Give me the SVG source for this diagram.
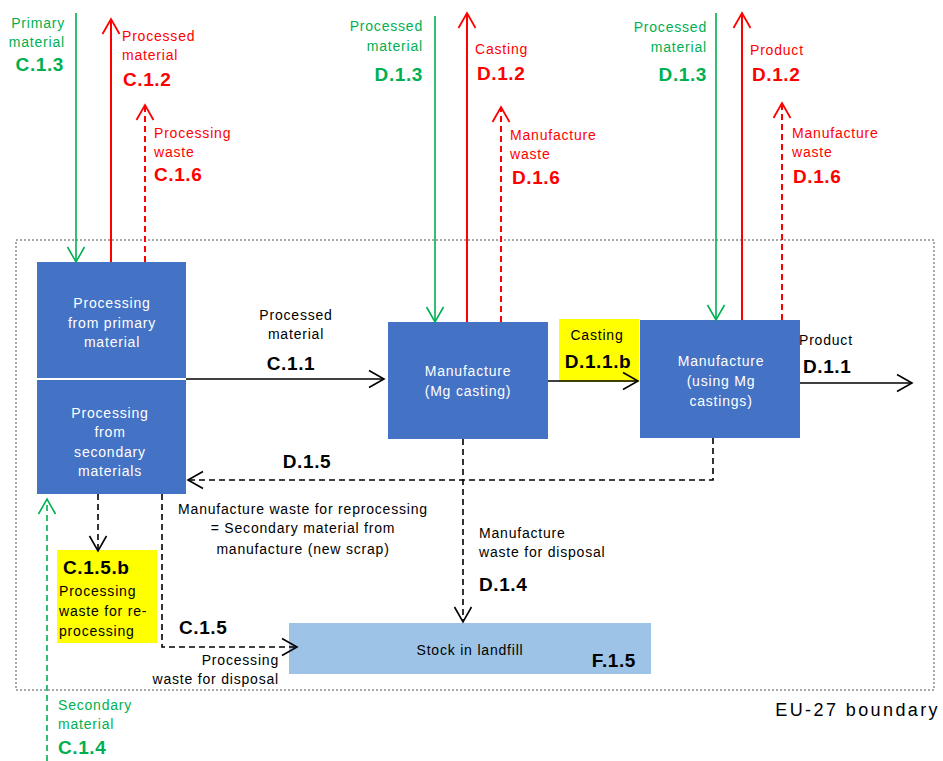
<svg xmlns="http://www.w3.org/2000/svg" width="943" height="761" viewBox="0 0 943 761">
  <style>
    text { font-family: "Liberation Sans", Arial, sans-serif; font-size: 14px; letter-spacing: 0.8px; }
    .b { font-weight: bold; font-size: 19px; letter-spacing: 0.6px; }
    .g { fill: #00B050; }
    .r { fill: #FF0000; }
    .k { fill: #000; }
    .w { fill: #fff; }
    .m { text-anchor: middle; }
    .e { text-anchor: end; }
    .box { fill: #4472C4; }
    .ln { fill: none; stroke-width: 1.6; }
    .green { stroke: #00B050; }
    .red { stroke: #FF0000; stroke-width: 2; }
    .black { stroke: #000; }
    .dash { stroke-dasharray: 6 4; }
  </style>
  <defs>
    <marker id="ag" markerUnits="userSpaceOnUse" markerWidth="18" markerHeight="20" viewBox="0 0 18 20" refX="16" refY="10" orient="auto">
      <path d="M1,1.5 L16,10 L1,18.5" fill="none" stroke="#00B050" stroke-width="1.6"/>
    </marker>
    <marker id="ar" markerUnits="userSpaceOnUse" markerWidth="18" markerHeight="20" viewBox="0 0 18 20" refX="16" refY="10" orient="auto">
      <path d="M1,1.5 L16,10 L1,18.5" fill="none" stroke="#FF0000" stroke-width="1.8"/>
    </marker>
    <marker id="ak" markerUnits="userSpaceOnUse" markerWidth="18" markerHeight="20" viewBox="0 0 18 20" refX="16" refY="10" orient="auto">
      <path d="M1,1.5 L16,10 L1,18.5" fill="none" stroke="#000" stroke-width="1.6"/>
    </marker>
  </defs>

  <!-- system boundary -->
  <g id="boundary">
    <rect x="16" y="240" width="918" height="450" fill="none" stroke="#8C8C8C" stroke-width="1.5" stroke-dasharray="2 2"/>
    <text x="940" y="716" class="k e" style="font-size:18px;letter-spacing:2.4px">EU-27 boundary</text>
  </g>

  <!-- process nodes -->
  <g id="processing-primary">
    <rect class="box" x="37" y="262" width="149" height="116"/>
    <text x="112" y="308" class="w m">Processing</text>
    <text x="112" y="328" class="w m">from primary</text>
    <text x="112" y="347" class="w m">material</text>
  </g>
  <g id="processing-secondary">
    <rect class="box" x="37" y="380" width="149" height="114"/>
    <text x="110" y="418" class="w m">Processing</text>
    <text x="110" y="437" class="w m">from</text>
    <text x="110" y="457" class="w m">secondary</text>
    <text x="110" y="476" class="w m">materials</text>
  </g>
  <g id="manufacture-casting">
    <rect class="box" x="388" y="322" width="160" height="117"/>
    <text x="468" y="376" class="w m">Manufacture</text>
    <text x="468" y="396" class="w m">(Mg casting)</text>
  </g>
  <g id="manufacture-using-castings">
    <rect class="box" x="640" y="320" width="160" height="118"/>
    <text x="721" y="366" class="w m">Manufacture</text>
    <text x="721" y="386" class="w m">(using Mg</text>
    <text x="721" y="406" class="w m">castings)</text>
  </g>
  <g id="landfill">
    <rect x="289" y="623" width="362" height="51" fill="#9DC3E6"/>
    <text x="470" y="655" class="k m">Stock in landfill</text>
    <text x="636" y="667" class="k e b">F.1.5</text>
  </g>
  <g id="casting-label">
    <rect x="559" y="319" width="80" height="63" fill="#FFFF00"/>
    <text x="597" y="340" class="k m">Casting</text>
    <text x="598" y="368" class="k m b">D.1.1.b</text>
  </g>
  <g id="reprocessing-label">
    <rect x="57" y="550" width="100" height="93" fill="#FFFF00"/>
    <text x="63" y="574" class="k b">C.1.5.b</text>
    <text x="59" y="596" class="k">Processing</text>
    <text x="59" y="616" class="k">waste for re-</text>
    <text x="59" y="636" class="k">processing</text>
  </g>

  <!-- flows -->
  <g id="connectors">
    <line class="ln green" x1="76" y1="13" x2="76" y2="262" marker-end="url(#ag)"/>
    <line class="ln red" x1="111" y1="262" x2="111" y2="19" marker-end="url(#ar)"/>
    <line class="ln red dash" x1="145" y1="262" x2="145" y2="105" marker-end="url(#ar)"/>
    <line class="ln green" x1="435" y1="16" x2="435" y2="322" marker-end="url(#ag)"/>
    <line class="ln red" x1="467" y1="322" x2="467" y2="13" marker-end="url(#ar)"/>
    <line class="ln red dash" x1="501" y1="322" x2="501" y2="107" marker-end="url(#ar)"/>
    <line class="ln green" x1="716" y1="13" x2="716" y2="320" marker-end="url(#ag)"/>
    <line class="ln red" x1="742" y1="320" x2="742" y2="13" marker-end="url(#ar)"/>
    <line class="ln red dash" x1="782" y1="320" x2="782" y2="103" marker-end="url(#ar)"/>
    <line class="ln black" x1="186" y1="379" x2="384" y2="379" marker-end="url(#ak)"/>
    <line class="ln black" x1="548" y1="381" x2="638" y2="381" marker-end="url(#ak)"/>
    <line class="ln black" x1="800" y1="383" x2="912" y2="383" marker-end="url(#ak)"/>
    <path class="ln black dash" d="M713,438 V480 H188" marker-end="url(#ak)"/>
    <line class="ln black dash" x1="463" y1="439" x2="463" y2="622" marker-end="url(#ak)"/>
    <line class="ln black dash" x1="98" y1="494" x2="98" y2="551" marker-end="url(#ak)"/>
    <path class="ln black dash" d="M162,494 V647 H297" marker-end="url(#ak)"/>
    <line class="ln green dash" x1="47" y1="761" x2="47" y2="499" marker-end="url(#ag)"/>
  </g>

  <!-- flow labels -->
  <g id="labels">
    <text x="65" y="28" class="g e">Primary</text>
    <text x="65" y="47" class="g e">material</text>
    <text x="64" y="71" class="g e b">C.1.3</text>

    <text x="122" y="41" class="r">Processed</text>
    <text x="122" y="60" class="r">material</text>
    <text x="123" y="86" class="r b">C.1.2</text>

    <text x="154" y="138" class="r">Processing</text>
    <text x="154" y="157" class="r">waste</text>
    <text x="154" y="181" class="r b">C.1.6</text>

    <text x="423" y="31" class="g e">Processed</text>
    <text x="423" y="51" class="g e">material</text>
    <text x="423" y="81" class="g e b">D.1.3</text>

    <text x="475" y="54" class="r">Casting</text>
    <text x="477" y="80" class="r b">D.1.2</text>

    <text x="510" y="140" class="r">Manufacture</text>
    <text x="510" y="159" class="r">waste</text>
    <text x="512" y="184" class="r b">D.1.6</text>

    <text x="707" y="32" class="g e">Processed</text>
    <text x="707" y="52" class="g e">material</text>
    <text x="707" y="81" class="g e b">D.1.3</text>

    <text x="750" y="55" class="r">Product</text>
    <text x="752" y="81" class="r b">D.1.2</text>

    <text x="792" y="138" class="r">Manufacture</text>
    <text x="792" y="157" class="r">waste</text>
    <text x="793" y="183" class="r b">D.1.6</text>

    <text x="296" y="320" class="k m">Processed</text>
    <text x="296" y="339" class="k m">material</text>
    <text x="291" y="370" class="k m b">C.1.1</text>

    <text x="799" y="345" class="k">Product</text>
    <text x="803" y="373" class="k b">D.1.1</text>

    <text x="307" y="468" class="k m b">D.1.5</text>

    <text x="303" y="514" class="k m">Manufacture waste for reprocessing</text>
    <text x="303" y="533" class="k m">= Secondary material from</text>
    <text x="303" y="554" class="k m">manufacture (new scrap)</text>

    <text x="479" y="538" class="k">Manufacture</text>
    <text x="479" y="557" class="k">waste for disposal</text>
    <text x="479" y="591" class="k b">D.1.4</text>

    <text x="179" y="634" class="k b">C.1.5</text>
    <text x="279" y="665" class="k e">Processing</text>
    <text x="279" y="684" class="k e">waste for disposal</text>

    <text x="58" y="710" class="g">Secondary</text>
    <text x="58" y="729" class="g">material</text>
    <text x="58" y="754" class="g b">C.1.4</text>
  </g>
</svg>
